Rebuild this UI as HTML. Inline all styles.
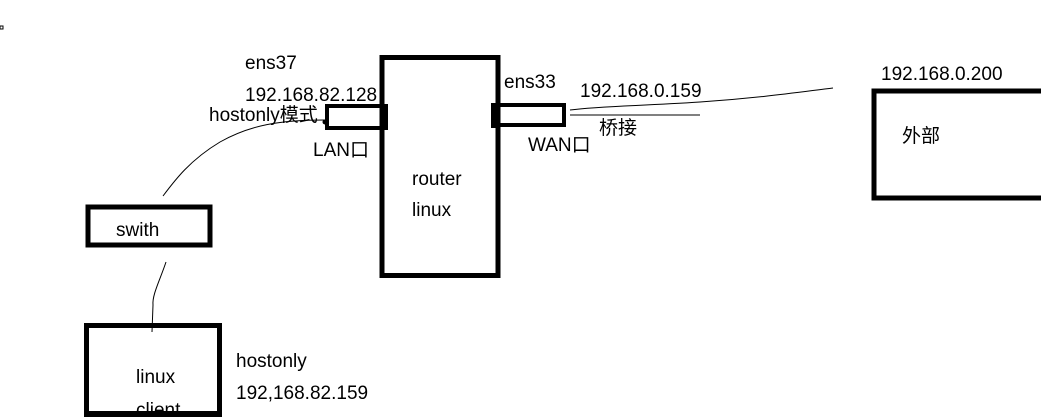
<!DOCTYPE html>
<html><head><style>
html,body{margin:0;padding:0;background:#fff;width:1041px;height:420px;overflow:hidden}
svg text{font-family:"Liberation Sans","Noto Sans CJK SC",sans-serif;font-size:19px;fill:#000}
</style></head><body>
<svg width="1041" height="420" xmlns="http://www.w3.org/2000/svg">
<rect x="0" y="26" width="3" height="3" fill="none" stroke="#000" stroke-width="1"/>
<rect x="382" y="57.5" width="116" height="218" fill="none" stroke="#000" stroke-width="5"/>
<rect x="327" y="106" width="56" height="22" fill="none" stroke="#000" stroke-width="4"/>
<rect x="380" y="104" width="8" height="26" fill="#000"/>
<circle cx="325" cy="122" r="2.5" fill="#000"/>
<rect x="494" y="105" width="70" height="20" fill="none" stroke="#000" stroke-width="4"/>
<rect x="491" y="103" width="9" height="25" fill="#000"/>
<rect x="88" y="207" width="122" height="38" fill="none" stroke="#000" stroke-width="5"/>
<rect x="86.5" y="325.5" width="133" height="88" fill="none" stroke="#000" stroke-width="5"/>
<rect x="874" y="91" width="172" height="107" fill="none" stroke="#000" stroke-width="5"/>
<path d="M163 196 C175 180,190 160,220 142 C250 125,280 120,325 120" fill="none" stroke="#000" stroke-width="1"/>
<path d="M166 262 C160 280,152 295,153 305 L152 332" fill="none" stroke="#000" stroke-width="1"/>
<path d="M570 110 C600 106,640 106,700 102 C760 98,800 92,833 88" fill="none" stroke="#000" stroke-width="1"/>
<line x1="570" y1="115" x2="700" y2="115" stroke="#000" stroke-width="1"/>
<text x="245" y="69">ens37</text>
<text x="245" y="101">192.168.82.128</text>
<text x="209" y="121">hostonly模式</text>
<text x="313" y="156">LAN口</text>
<text x="412" y="185">router</text>
<text x="412" y="216">linux</text>
<text x="504" y="88">ens33</text>
<text x="580" y="97">192.168.0.159</text>
<text x="599" y="134">桥接</text>
<text x="528" y="151">WAN口</text>
<text x="881" y="80">192.168.0.200</text>
<text x="902" y="142">外部</text>
<text x="116" y="236">swith</text>
<text x="236" y="367">hostonly</text>
<text x="236" y="399">192,168.82.159</text>
<text x="136" y="383">linux</text>
<text x="136" y="416">client</text>
<rect x="84" y="411" width="138" height="6" fill="#000"/>
</svg>
</body></html>
